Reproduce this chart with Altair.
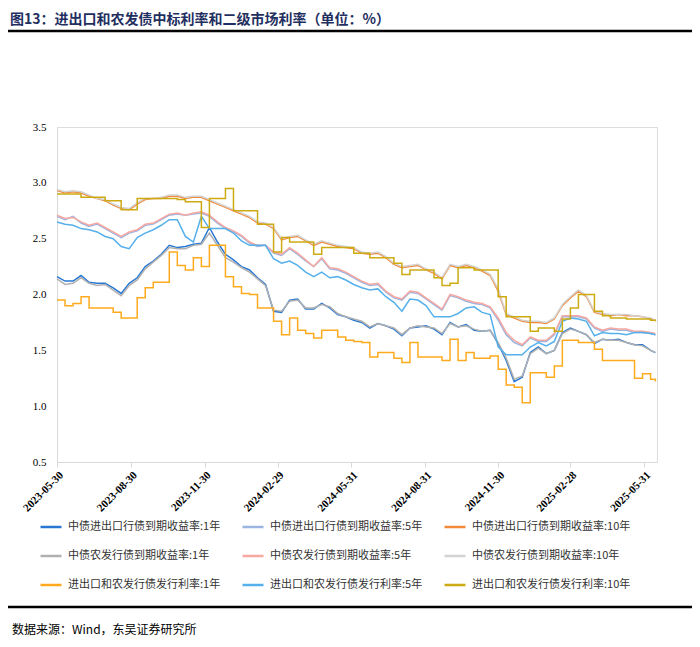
import altair as alt
import pandas as pd

# sampling grid (every 10 days) plus the last trading day shown
dates = pd.date_range("2023-05-30", periods=75, freq="10D").tolist() + [pd.Timestamp("2025-06-14")]

series_names = [
    "中债进出口行债到期收益率:1年",
    "中债进出口行债到期收益率:5年",
    "中债进出口行债到期收益率:10年",
    "中债农发行债到期收益率:1年",
    "中债农发行债到期收益率:5年",
    "中债农发行债到期收益率:10年",
    "进出口和农发行债发行利率:1年",
    "进出口和农发行债发行利率:5年",
    "进出口和农发行债发行利率:10年",
]
colors = ["#2878D3", "#9CB4E2", "#F28A3C",
          "#B0B0B0", "#F7A8A0", "#D3D3D3",
          "#FFAA1E", "#55B0EB", "#CDAA12"]

exim_1y = [2.16, 2.12, 2.12, 2.17, 2.11, 2.10, 2.10, 2.06, 2.01, 2.10,
           2.15, 2.25, 2.30, 2.36, 2.44, 2.42, 2.43, 2.45, 2.46, 2.60,
           2.47, 2.36, 2.31, 2.25, 2.22, 2.15, 2.09, 1.85, 1.84, 1.95,
           1.96, 1.87, 1.87, 1.92, 1.88, 1.82, 1.80, 1.77, 1.75, 1.70,
           1.74, 1.72, 1.69, 1.63, 1.70, 1.71, 1.72, 1.69, 1.64, 1.75,
           1.71, 1.73, 1.68, 1.67, 1.68, 1.56, 1.41, 1.22, 1.26, 1.48,
           1.53, 1.47, 1.50, 1.66, 1.70, 1.67, 1.64, 1.56, 1.60, 1.59,
           1.60, 1.57, 1.55, 1.55, 1.50, 1.48]
adbc_1y = [2.14, 2.09, 2.10, 2.15, 2.10, 2.08, 2.09, 2.04, 1.99, 2.08,
           2.13, 2.23, 2.29, 2.35, 2.42, 2.41, 2.41, 2.44, 2.45, 2.55,
           2.44, 2.33, 2.29, 2.24, 2.20, 2.14, 2.08, 1.86, 1.85, 1.94,
           1.95, 1.88, 1.88, 1.91, 1.89, 1.83, 1.80, 1.78, 1.76, 1.71,
           1.74, 1.72, 1.70, 1.64, 1.70, 1.72, 1.71, 1.70, 1.65, 1.74,
           1.71, 1.72, 1.69, 1.67, 1.68, 1.57, 1.43, 1.24, 1.27, 1.47,
           1.52, 1.47, 1.50, 1.65, 1.69, 1.67, 1.64, 1.57, 1.60, 1.59,
           1.59, 1.57, 1.55, 1.54, 1.50, 1.48]
exim_5y = [2.70, 2.67, 2.70, 2.64, 2.61, 2.63, 2.59, 2.55, 2.51, 2.55,
           2.57, 2.62, 2.63, 2.67, 2.71, 2.72, 2.71, 2.72, 2.73, 2.70,
           2.64, 2.59, 2.56, 2.52, 2.46, 2.43, 2.44, 2.37, 2.35, 2.41,
           2.36, 2.30, 2.25, 2.32, 2.23, 2.22, 2.19, 2.15, 2.11, 2.08,
           2.09, 2.02, 1.97, 1.95, 2.02, 2.01, 1.96, 1.91, 1.86, 1.99,
           1.97, 1.94, 1.92, 1.91, 1.88, 1.77, 1.64, 1.57, 1.54, 1.61,
           1.58, 1.58, 1.64, 1.80, 1.80, 1.80, 1.78, 1.70, 1.67, 1.69,
           1.68, 1.68, 1.66, 1.66, 1.65, 1.64]
adbc_5y = [2.71, 2.68, 2.69, 2.65, 2.62, 2.64, 2.60, 2.56, 2.52, 2.56,
           2.58, 2.63, 2.64, 2.68, 2.72, 2.73, 2.71, 2.73, 2.74, 2.71,
           2.65, 2.60, 2.57, 2.53, 2.47, 2.44, 2.44, 2.38, 2.36, 2.42,
           2.37, 2.31, 2.25, 2.33, 2.24, 2.23, 2.20, 2.16, 2.12, 2.09,
           2.10, 2.03, 1.98, 1.96, 2.03, 2.02, 1.97, 1.92, 1.87, 2.00,
           1.98, 1.95, 1.93, 1.92, 1.89, 1.79, 1.66, 1.59, 1.55, 1.62,
           1.59, 1.59, 1.65, 1.81, 1.81, 1.81, 1.79, 1.71, 1.68, 1.70,
           1.69, 1.69, 1.67, 1.67, 1.66, 1.65]
exim_10y = [2.93, 2.91, 2.92, 2.91, 2.88, 2.86, 2.84, 2.80, 2.77, 2.76,
            2.81, 2.85, 2.86, 2.86, 2.88, 2.88, 2.86, 2.87, 2.87, 2.84,
            2.81, 2.78, 2.75, 2.72, 2.69, 2.64, 2.63, 2.59, 2.49, 2.51,
            2.52, 2.48, 2.44, 2.47, 2.45, 2.43, 2.42, 2.41, 2.37, 2.36,
            2.37, 2.33, 2.27, 2.24, 2.25, 2.26, 2.22, 2.19, 2.14, 2.26,
            2.24, 2.26, 2.24, 2.21, 2.17, 2.03, 1.82, 1.79, 1.76, 1.75,
            1.75, 1.74, 1.78, 1.90, 1.97, 2.03, 1.98, 1.84, 1.82, 1.81,
            1.82, 1.81, 1.81, 1.80, 1.78, 1.77]
adbc_10y = [2.94, 2.92, 2.93, 2.92, 2.89, 2.86, 2.85, 2.81, 2.78, 2.77,
            2.82, 2.86, 2.86, 2.87, 2.89, 2.89, 2.87, 2.88, 2.88, 2.85,
            2.82, 2.79, 2.76, 2.73, 2.70, 2.65, 2.64, 2.60, 2.50, 2.52,
            2.53, 2.49, 2.45, 2.48, 2.46, 2.44, 2.43, 2.42, 2.38, 2.37,
            2.38, 2.34, 2.28, 2.25, 2.26, 2.27, 2.23, 2.20, 2.15, 2.27,
            2.25, 2.27, 2.25, 2.22, 2.18, 2.05, 1.83, 1.80, 1.77, 1.76,
            1.76, 1.75, 1.79, 1.91, 1.98, 2.04, 1.99, 1.85, 1.83, 1.82,
            1.82, 1.82, 1.81, 1.80, 1.79, 1.77]
issue_1y = [1.95, 1.90, 1.92, 1.98, 1.88, 1.88, 1.88, 1.84, 1.79, 1.79,
            1.97, 2.06, 2.11, 2.11, 2.38, 2.26, 2.22, 2.33, 2.25, 2.44,
            2.44, 2.16, 2.07, 2.01, 2.00, 1.88, 1.88, 1.76, 1.64, 1.79,
            1.68, 1.65, 1.61, 1.68, 1.68, 1.62, 1.59, 1.58, 1.57, 1.44,
            1.48, 1.48, 1.43, 1.39, 1.57, 1.44, 1.44, 1.44, 1.41, 1.60,
            1.41, 1.48, 1.43, 1.43, 1.45, 1.33, 1.19, 1.17, 1.03, 1.30,
            1.30, 1.26, 1.36, 1.59, 1.59, 1.57, 1.57, 1.51, 1.41, 1.41,
            1.41, 1.41, 1.25, 1.29, 1.24, 1.22]
issue_5y = [2.65, 2.63, 2.62, 2.59, 2.58, 2.56, 2.52, 2.50, 2.43, 2.41,
            2.51, 2.55, 2.58, 2.62, 2.67, 2.67, 2.52, 2.47, 2.70, 2.59,
            2.59, 2.59, 2.55, 2.48, 2.44, 2.44, 2.44, 2.32, 2.28, 2.30,
            2.26, 2.20, 2.16, 2.20, 2.15, 2.16, 2.13, 2.09, 2.06, 2.04,
            2.05, 1.98, 1.93, 1.85, 1.96, 1.95, 1.90, 1.80, 1.80, 1.80,
            1.83, 1.88, 1.89, 1.84, 1.82, 1.53, 1.46, 1.46, 1.46, 1.53,
            1.57, 1.54, 1.58, 1.76, 1.79, 1.78, 1.76, 1.63, 1.66, 1.65,
            1.65, 1.64, 1.66, 1.66, 1.65, 1.64]
issue_10y = [2.90, 2.90, 2.90, 2.87, 2.87, 2.87, 2.84, 2.84, 2.76, 2.76,
             2.86, 2.86, 2.86, 2.86, 2.86, 2.85, 2.83, 2.83, 2.60, 2.86,
             2.86, 2.95, 2.75, 2.75, 2.75, 2.63, 2.63, 2.38, 2.51, 2.47,
             2.47, 2.47, 2.36, 2.42, 2.42, 2.42, 2.42, 2.37, 2.37, 2.33,
             2.33, 2.33, 2.28, 2.18, 2.22, 2.22, 2.22, 2.15, 2.08, 2.10,
             2.24, 2.24, 2.22, 2.22, 2.22, 1.98, 1.80, 1.80, 1.80, 1.67,
             1.70, 1.70, 1.67, 1.78, 1.88, 2.00, 2.00, 1.85, 1.81, 1.79,
             1.79, 1.78, 1.78, 1.78, 1.77, 1.76]

x_ticks = [(2023, 5, 30), (2023, 8, 30), (2023, 11, 30), (2024, 2, 29), (2024, 5, 31),
           (2024, 8, 31), (2024, 11, 30), (2025, 2, 28), (2025, 5, 31)]
y_ticks = [0.5, 1.0, 1.5, 2.0, 2.5, 3.0, 3.5]

title_text = "图13：进出口和农发债中标利率和二级市场利率（单位：%）"
source_text = "数据来源：Wind，东吴证券研究所"

all_series = [exim_1y, exim_5y, exim_10y, adbc_1y, adbc_5y, adbc_10y, issue_1y, issue_5y, issue_10y]
rows = []
for name, vals in zip(series_names, all_series):
    for d, v in zip(dates, vals):
        rows.append({"date": d, "value": v, "series": name})
df = pd.DataFrame(rows)
step_names = [series_names[6], series_names[8]]
df_line = df[~df["series"].isin(step_names)]
df_step = df[df["series"].isin(step_names)]

x_enc = alt.X(
    "date:T",
    scale=alt.Scale(domain=[alt.DateTime(year=2023, month=5, date=30),
                            alt.DateTime(year=2025, month=6, date=16)]),
    axis=alt.Axis(
        values=[alt.DateTime(year=y, month=m, date=d) for (y, m, d) in x_ticks],
        format="%Y-%m-%d", labelAngle=-45, labelAlign="right", labelBaseline="top",
        labelFont="Liberation Serif", labelFontSize=11, labelFontWeight="bold",
        labelColor="#000000", labelPadding=2, grid=False, domainColor="#D9D9D9",
        tickColor="#D9D9D9", tickSize=5, title=None, labelOverlap=False,
    ),
)
y_enc = alt.Y(
    "value:Q",
    scale=alt.Scale(domain=[0.5, 3.5], nice=False, zero=False),
    axis=alt.Axis(
        values=y_ticks, format=".1f", grid=False, ticks=False, domainColor="#D9D9D9",
        labelFont="Liberation Serif", labelFontSize=11, labelColor="#000000",
        labelPadding=11, title=None,
    ),
)
color_enc = alt.Color(
    "series:N",
    scale=alt.Scale(domain=series_names, range=colors),
    sort=series_names,
    legend=alt.Legend(
        orient="none", legendX=-18, legendY=388, columns=3, direction="horizontal",
        gridAlign="all",
        title=None, symbolType="stroke", symbolSize=440, symbolStrokeWidth=2.5,
        labelFont="Noto Sans CJK SC", labelFontSize=11, labelColor="#333333",
        labelLimit=400, rowPadding=12, columnPadding=10, labelOffset=5, padding=0,
    ),
)

lines = alt.Chart(df_line).mark_line(strokeWidth=1.5).encode(
    x=x_enc, y=y_enc, color=color_enc, detail="series:N"
)
steps = alt.Chart(df_step).mark_line(strokeWidth=1.5, interpolate="step-after").encode(
    x=x_enc, y=y_enc, color=color_enc, detail="series:N"
)

one = pd.DataFrame({"t": [title_text]})
title = alt.Chart(one).mark_text(
    align="left", baseline="middle", font="Noto Sans CJK SC", fontSize=14,
    fontWeight="bold", color="#1F2F5F"
).encode(text="t:N", x=alt.value(-47), y=alt.value(-107))
top_rule = alt.Chart(one).mark_rule(color="#000000", strokeWidth=2.5).encode(
    x=alt.value(-52), x2=alt.value(636), y=alt.value(-96)
)
bottom_rule = alt.Chart(one).mark_rule(color="#000000", strokeWidth=2.5).encode(
    x=alt.value(-52), x2=alt.value(636), y=alt.value(480)
)
src = alt.Chart(pd.DataFrame({"t": [source_text]})).mark_text(
    align="left", baseline="middle", font="Noto Sans CJK SC", fontSize=12, color="#000000"
).encode(text="t:N", x=alt.value(-45), y=alt.value(503))

chart = alt.layer(lines, steps, title, top_rule, bottom_rule, src).properties(
    width=600, height=335,
    autosize=alt.AutoSizeParams(type="none"),
    padding={"left": 49, "top": 119, "right": 35, "bottom": 175},
).configure_view(strokeWidth=0).configure(background="#FFFFFF")

chart.save("out.html", embed_options={"renderer": "svg", "actions": False})
